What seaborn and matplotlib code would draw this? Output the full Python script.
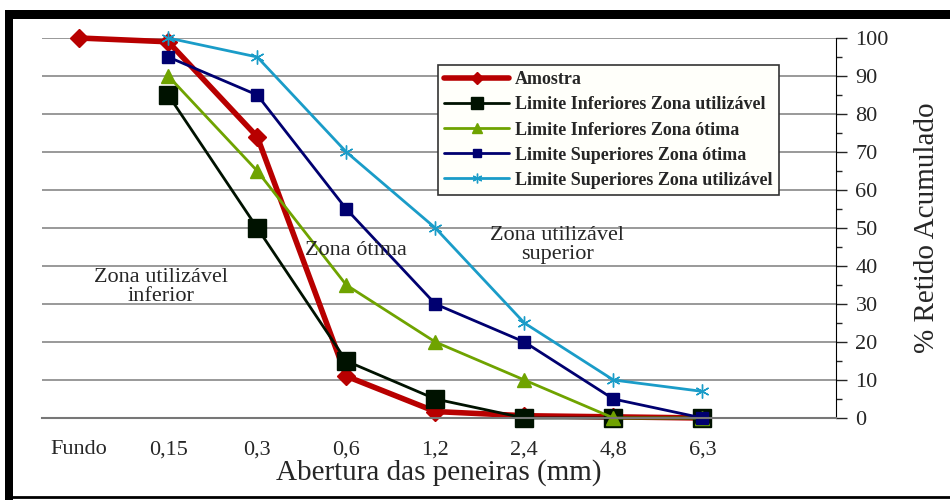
import matplotlib
matplotlib.use("Agg")
import matplotlib.pyplot as plt
import seaborn as sns
import numpy as np
from matplotlib.patches import Rectangle

# categorias do eixo x (aberturas das peneiras)
peneiras = ["Fundo", "0,15", "0,3", "0,6", "1,2", "2,4", "4,8", "6,3"]

# % retido acumulado
amostra = [100, 99, 74, 11, 1.7, 0.6, 0.3, 0]
lim_inf_utilizavel = [None, 85, 50, 15, 5, 0, 0, 0]
lim_inf_otima = [None, 90, 65, 35, 20, 10, 0, 0]
lim_sup_otima = [None, 95, 85, 55, 30, 20, 5, 0]
lim_sup_utilizavel = [None, 100, 95, 70, 50, 25, 10, 7]

series = [
    ("Amostra", amostra, "#b80000", "D", 4.0, 9),
    ("Limite Inferiores Zona utilizável", lim_inf_utilizavel, "#001200", "s", 2.0, 13),
    ("Limite Inferiores Zona ótima", lim_inf_otima, "#6fa300", "^", 2.0, 10),
    ("Limite Superiores Zona ótima", lim_sup_otima, "#000070", "s", 2.0, 8),
    ("Limite Superiores Zona utilizável", lim_sup_utilizavel, "#1a9cc8", (6, 2, 0), 2.0, 10),
]

sns.set_style("white")
plt.rcParams["font.family"] = ["Liberation Serif", "DejaVu Serif"]

fig = plt.figure(figsize=(9.5, 5), dpi=100)
ax = fig.add_axes([0.044, 0.164, 0.836, 0.76])

x = np.arange(len(peneiras))
for nome, vals, cor, mk, lw, ms in series:
    xs = [xi for xi, v in zip(x, vals) if v is not None]
    ys = [v for v in vals if v is not None]
    sns.lineplot(x=xs, y=ys, ax=ax, color=cor, marker=mk, linewidth=lw,
                 markersize=ms, markeredgecolor=cor, markeredgewidth=1.0,
                 label=nome, sort=False, clip_on=False)

ax.set_xlim(-0.42, 8.5)
ax.set_ylim(0, 100)
ax.set_xticks(np.arange(9))
ax.set_xticklabels(peneiras + [""], fontsize=16)
ax.tick_params(axis="x", direction="inout", length=12, width=1, pad=10, color="#222222")

ax.yaxis.tick_right()
ax.yaxis.set_label_position("right")
ax.set_yticks(np.arange(0, 101, 10))
ax.set_yticks(np.arange(5, 100, 10), minor=True)
ax.tick_params(axis="y", which="major", direction="out", length=8, width=1, labelsize=16, pad=6, right=True, left=False)
ax.tick_params(axis="y", which="minor", direction="out", length=4, width=1, right=True, left=False)
ax.set_ylabel("% Retido Acumulado", fontsize=21, labelpad=18)
ax.set_xlabel("Abertura das peneiras (mm)", fontsize=21, labelpad=0)

ax.grid(axis="y", color="#888888", linewidth=1.2)
for s in ["top", "left"]:
    ax.spines[s].set_visible(False)
ax.spines["right"].set_color("black")
ax.spines["bottom"].set_color("#777777")
ax.spines["bottom"].set_linewidth(1.5)

ax.text(0.92, 34.5, "Zona utilizável\ninferior", fontsize=16, ha="center", va="center", linespacing=1.0)
ax.text(3.11, 44, "Zona ótima", fontsize=16, ha="center", va="center")
ax.text(5.37, 45.5, "Zona utilizável\nsuperior", fontsize=16, ha="center", va="center", linespacing=1.0)

leg = ax.legend(loc="upper left", bbox_to_anchor=(0.499, 0.929), borderaxespad=0,
                frameon=True, fancybox=False, framealpha=1, edgecolor="#333333",
                prop={"family": ["Liberation Serif"], "weight": "bold", "size": 13},
                handlelength=3.6, handletextpad=0.3, labelspacing=0.45,
                borderpad=0.35, markerscale=0.7)
leg.get_frame().set_facecolor("#fffffa")
leg.get_frame().set_linewidth(1.2)

# moldura preta em volta da figura
fig.patches.append(Rectangle((0.009, 0.006), 0.995, 0.965, transform=fig.transFigure,
                             fill=False, edgecolor="black", linewidth=2, zorder=0))
fig.patches.append(Rectangle((0.005, 0.962), 0.995, 0.018, transform=fig.transFigure,
                             facecolor="black", edgecolor="none", zorder=0))
fig.patches.append(Rectangle((0.005, 0.0), 0.009, 0.98, transform=fig.transFigure,
                             facecolor="black", edgecolor="none", zorder=0))

fig.savefig("out.png", dpi=100)
